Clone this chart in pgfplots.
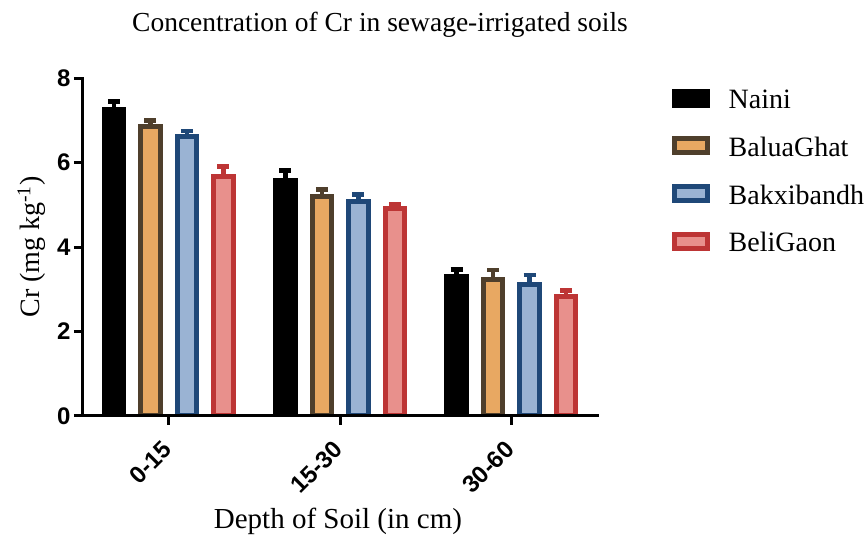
\documentclass[border=0pt]{standalone}
\usepackage{fontspec}
\setmainfont{Liberation Serif}
\setsansfont{Liberation Sans}
\usepackage{pgfplots}
\usepackage{pgfplotstable}
\pgfplotsset{compat=1.18}
\definecolor{brownE}{HTML}{4F3F2C}
\definecolor{orangeF}{HTML}{E8A862}
\definecolor{blueE}{HTML}{1F4878}
\definecolor{blueF}{HTML}{9AB3D3}
\definecolor{redE}{HTML}{BD3535}
\definecolor{redF}{HTML}{E8908C}
\pgfplotstableread{
x y e
0 7.26 0.18
1 5.58 0.23
2 3.30 0.17
}\naini
\pgfplotstableread{
x y e
0 6.85 0.14
1 5.20 0.16
2 3.24 0.22
}\balua
\pgfplotstableread{
x y e
0 6.62 0.13
1 5.07 0.17
2 3.11 0.23
}\bakxi
\pgfplotstableread{
x y e
0 5.67 0.24
1 4.92 0.09
2 2.83 0.14
}\beli
\begin{document}
\begin{tikzpicture}
\useasboundingbox (-83pt,-119pt) rectangle (785pt,416pt);
\begin{axis}[
  at={(0pt,0pt)}, anchor=south west,
  scale only axis, width=514pt, height=338pt,
  xmin=-0.5, xmax=2.5, ymin=0, ymax=8,
  axis lines=left,
  axis line style={-, line width=3pt, line cap=rect, black},
  axis on top,
  tick align=outside,
  major tick length=9pt,
  tick style={line width=3pt, black},
  xtick={0,1,2}, xticklabels={0-15,15-30,30-60},
  ytick={0,2,4,6,8},
  /pgf/number format/assume math mode=true,
  ticklabel style={font=\fontsize{24}{24}\selectfont\sffamily\bfseries},
  xticklabel style={rotate=45, anchor=east, xshift=-12pt, yshift=-13.4pt},
  ybar=17pt, bar width=19.5pt,
  title={Concentration of Cr in sewage-irrigated soils},
  title style={font=\fontsize{27.5}{27.5}\selectfont, at={(axis description cs:0.5778,1.1213)}, anchor=base},
  xlabel={Depth of Soil (in cm)},
  xlabel style={font=\fontsize{29}{29}\selectfont, at={(axis description cs:0.496,-0.3343)}, anchor=base},
  ylabel={Cr (mg kg\textsuperscript{-1})},
  ylabel style={font=\fontsize{28}{28}\selectfont, at={(axis description cs:-0.1002,0.5)}, anchor=center},
  legend style={at={(axis description cs:1.145,0.975)}, anchor=north west, draw=none, fill=none,
    font=\fontsize{28}{28}\selectfont, inner sep=0pt, row sep=21pt, column sep=16pt,
    nodes={inner sep=3pt}},
  legend cell align=left,
  legend image code/.code={\draw[#1,/tikz/.cd,line width=5pt] (0pt,-5.5pt) rectangle (33pt,8.5pt);},
]
\addplot[fill=black, draw=black, line width=5pt,
  error bars/y dir=plus, error bars/y explicit,
  error bars/error bar style={line width=4.5pt, black},
  error bars/error mark options={rotate=90, line width=4.5pt, black, mark size=6pt}]
  table[x=x, y=y, y error=e] {\naini};
\addlegendentry{Naini}
\addplot[fill=orangeF, draw=brownE, line width=5pt,
  error bars/y dir=plus, error bars/y explicit,
  error bars/error bar style={line width=4.5pt, brownE},
  error bars/error mark options={rotate=90, line width=4.5pt, brownE, mark size=6pt}]
  table[x=x, y=y, y error=e] {\balua};
\addlegendentry{BaluaGhat}
\addplot[fill=blueF, draw=blueE, line width=5pt,
  error bars/y dir=plus, error bars/y explicit,
  error bars/error bar style={line width=4.5pt, blueE},
  error bars/error mark options={rotate=90, line width=4.5pt, blueE, mark size=6pt}]
  table[x=x, y=y, y error=e] {\bakxi};
\addlegendentry{Bakxibandh}
\addplot[fill=redF, draw=redE, line width=5pt,
  error bars/y dir=plus, error bars/y explicit,
  error bars/error bar style={line width=4.5pt, redE},
  error bars/error mark options={rotate=90, line width=4.5pt, redE, mark size=6pt}]
  table[x=x, y=y, y error=e] {\beli};
\addlegendentry{BeliGaon}
\end{axis}
\end{tikzpicture}
\end{document}
